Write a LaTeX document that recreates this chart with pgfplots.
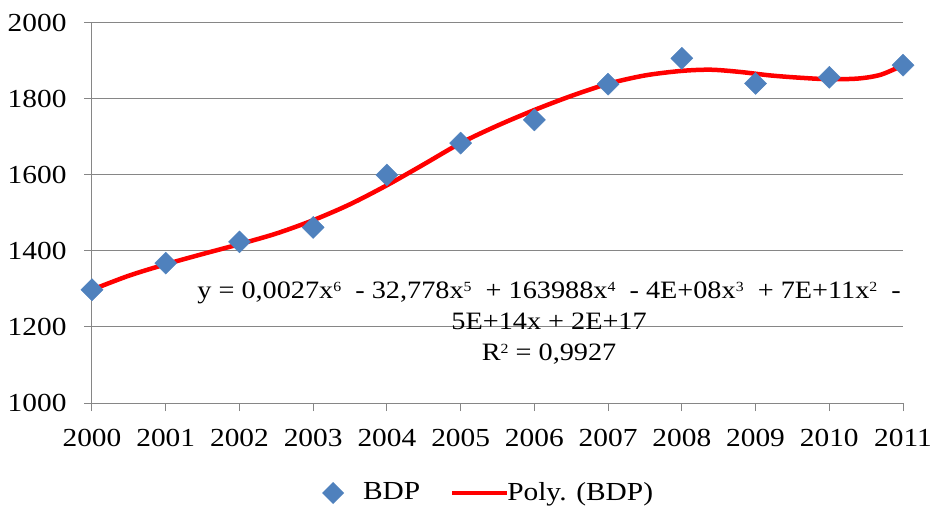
\documentclass[border=0pt]{standalone}
\usepackage{fontspec}
\setmainfont[FakeStretch=1.13]{Liberation Serif}
\usepackage{pgfplots}
\pgfplotsset{compat=1.18}
\definecolor{bdpblue}{RGB}{79,129,189}
\definecolor{gridgray}{RGB}{134,134,134}
\newcommand{\chartfont}{\fontsize{25}{30}\selectfont}
\newcommand{\labelfont}{\fontsize{26}{30}\selectfont}
\newcommand{\pw}[1]{\raisebox{7pt}{\fontsize{14}{14}\selectfont #1}}
\begin{document}
\chartfont
\begin{tikzpicture}
\begin{axis}[
    name=ax,
    scale only axis,
    width=811pt,
    height=380pt,
    xmin=2000, xmax=2011,
    ymin=1000, ymax=2000,
    xtick={2000,2001,...,2011},
    ytick={1000,1200,...,2000},
    /pgf/number format/1000 sep={},
    /pgf/number format/assume math mode=true,
    axis lines*=left,
    axis line style={gridgray, line width=1pt},
    ymajorgrids,
    grid style={gridgray, line width=1pt},
    tick align=outside,
    major tick length=8pt,
    tick style={gridgray, line width=1pt},
    tick label style={font=\labelfont, black},
    yticklabel style={xshift=-9pt},
    xticklabel style={yshift=-10pt},
    legend style={draw=none, at={(0.489,-0.237)}, anchor=center,
        legend columns=2, font=\labelfont,
        /tikz/every even column/.append style={column sep=30pt}},
]
\addplot[only marks, mark=square*, mark size=7.8pt,
    mark options={rotate=45, fill=bdpblue, draw=bdpblue},
    legend image code/.code={
        \path[draw=none] (0pt,0pt) -- (39pt,0pt);
        \node[draw=none, fill=bdpblue, rotate=45, minimum size=15.6pt, inner sep=0pt]
            at (11pt,0pt) {};}]
    coordinates {
    (2000,1298) (2001,1368) (2002,1424) (2003,1462) (2004,1600) (2005,1684)
    (2006,1745) (2007,1839) (2008,1907) (2009,1841) (2010,1857) (2011,1889)};
\addlegendentry{BDP}
\addplot[red, line width=4.5pt, smooth, no markers,
    legend image code/.code={
        \path[draw=none] (0pt,0pt) -- (53pt,0pt);
        \draw[red, line width=4.5pt, overlay] (0pt,0pt) -- (55pt,0pt);}]
    coordinates {
    (2000,1298) (2000.5,1335) (2001,1365) (2001.5,1392) (2002,1418)
    (2002.5,1446) (2003,1481) (2003.5,1523) (2004,1573) (2004.5,1628)
    (2005,1684) (2005.5,1730) (2006,1771) (2006.5,1808) (2007,1840)
    (2007.5,1862) (2008,1874) (2008.4,1877) (2008.8,1871) (2009.2,1862)
    (2009.6,1856) (2010,1852) (2010.4,1854) (2010.7,1864) (2011,1889)};
\addlegendentry{Poly. (BDP)}
\node[align=center, font=\chartfont, inner sep=0pt]
    at (axis cs:2006.2,1210)
    {y = 0,0027x\pw{6}\ \ - 32,778x\pw{5}\ \ + 163988x\pw{4}\ \ - 4E+08x\pw{3}\ \ + 7E+11x\pw{2}\ \ -\\[1pt]
     5E+14x + 2E+17\\[1pt]
     R\pw{2} = 0,9927};
\end{axis}
\pgfresetboundingbox
\path[use as bounding box] ([shift={(-92pt,-105pt)}]ax.south west)
    rectangle ([shift={(28pt,23pt)}]ax.north east);
\end{tikzpicture}
\end{document}
